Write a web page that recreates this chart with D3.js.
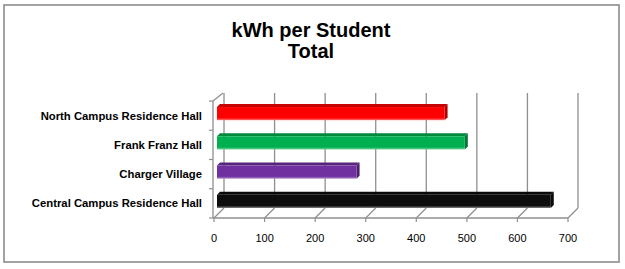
<!DOCTYPE html>
<html>
<head>
<meta charset="utf-8">
<script src="https://cdn.jsdelivr.net/npm/d3@7"></script>
<style>
  body { margin: 0; background: #fff; }
  svg { display: block; font-family: "Liberation Sans", Arial, sans-serif; }
</style>
</head>
<body>
<script>
// Width and Height
const w = 625;
const h = 269;

// chart data
const halls = ["North Campus Residence Hall", "Frank Franz Hall", "Charger Village", "Central Campus Residence Hall"];
const kwh = [450, 490, 276, 660];
const colors = ["#ff0000", "#00b050", "#7030a0", "#0d0d0d"];
const xTicks = [0, 100, 200, 300, 400, 500, 600, 700];

// depth of the 3d box
const depth = 10;

const x = d3.scaleLinear().domain([0, 700]).range([214, 568]);
const y = d3.scaleBand().domain(halls).range([101, 218]).paddingInner(0.55).paddingOuter(0.275);

const svg = d3.select("body")
    .append("svg")
    .attr("width", w)
    .attr("height", h);

// outer frame
svg.append("rect")
    .attr("x", 4).attr("y", 5)
    .attr("width", 615).attr("height", 257)
    .attr("fill", "none")
    .attr("stroke", "#8c8c8c")
    .attr("stroke-width", 1.6);

// title
const title = svg.append("text")
    .attr("text-anchor", "middle")
    .attr("font-weight", "bold")
    .attr("font-size", 20)
    .attr("fill", "#000");
title.append("tspan").attr("x", 311).attr("y", 37).text("kWh per Student");
title.append("tspan").attr("x", 311).attr("y", 58).text("Total");

const grid = "#8f8f8f";
const top0 = y.range()[0], bot0 = y.range()[1];

// back wall gridlines + floor lines
xTicks.forEach(function(t) {
    svg.append("line")
        .attr("x1", x(t) + depth).attr("x2", x(t) + depth)
        .attr("y1", top0 - depth + 2).attr("y2", bot0 - depth)
        .attr("stroke", grid).attr("stroke-width", 1.3);
    svg.append("line")
        .attr("x1", x(t)).attr("y1", bot0)
        .attr("x2", x(t) + depth).attr("y2", bot0 - depth)
        .attr("stroke", grid).attr("stroke-width", 1.2);
    // tick mark
    svg.append("line")
        .attr("x1", x(t)).attr("x2", x(t))
        .attr("y1", bot0).attr("y2", bot0 + 4)
        .attr("stroke", grid).attr("stroke-width", 1.2);
});

// left wall
svg.append("path")
    .attr("d", "M" + (x(0) - 1) + "," + bot0 + "V" + top0 + "L" + (x(0) + depth - 1) + "," + (top0 - depth + 2))
    .attr("fill", "none").attr("stroke", grid).attr("stroke-width", 1.3);

// floor front edge
svg.append("line")
    .attr("x1", x(0) - 1).attr("x2", x(700))
    .attr("y1", bot0).attr("y2", bot0)
    .attr("stroke", grid).attr("stroke-width", 1.3);

// category ticks on left wall
const bounds = [top0].concat(halls.map(function(d) { return y(d) + y.bandwidth() + y.step() * y.paddingInner() / 2; }));
bounds.forEach(function(b) {
    svg.append("line")
        .attr("x1", x(0) - 5).attr("x2", x(0) - 1)
        .attr("y1", b).attr("y2", b)
        .attr("stroke", grid).attr("stroke-width", 1.2);
});

// x tick labels
svg.selectAll("text.tick")
    .data(xTicks)
    .enter()
    .append("text")
    .attr("class", "tick")
    .attr("x", function(d) { return x(d); })
    .attr("y", 242)
    .attr("text-anchor", "middle")
    .attr("font-size", 11)
    .attr("fill", "#000")
    .text(function(d) { return d; });

// category labels
svg.selectAll("text.cat")
    .data(halls)
    .enter()
    .append("text")
    .attr("class", "cat")
    .attr("x", 202)
    .attr("y", function(d) { return y(d) + y.bandwidth() / 2 + 4; })
    .attr("text-anchor", "end")
    .attr("font-weight", "bold")
    .attr("font-size", 11.3)
    .attr("fill", "#000")
    .text(function(d) { return d; });

// gradients for bar fronts
const defs = svg.append("defs");
colors.forEach(function(c, i) {
    const g = defs.append("linearGradient")
        .attr("id", "bar" + i)
        .attr("x1", 0).attr("y1", 0).attr("x2", 0).attr("y2", 1);
    g.append("stop").attr("offset", "0%").attr("stop-color", c);
    g.append("stop").attr("offset", "82%").attr("stop-color", c);
    g.append("stop").attr("offset", "100%").attr("stop-color", d3.interpolateRgb(c, "#fff")(0.45));
});

// 3d bars: front face at depth 3, back at depth 6
const df = 3, db = 6;
halls.forEach(function(d, i) {
    const x0 = x(0) + df;
    const x1 = x(kwh[i]) + df;
    const yt = y(d) - df + 1;
    const hb = y.bandwidth();
    const sh = db - df;
    const dark = d3.color(colors[i]).darker(0.7);
    // top face
    svg.append("path")
        .attr("d", "M" + x0 + "," + yt + "L" + (x0 + sh) + "," + (yt - sh) + "H" + (x1 + sh) + "L" + x1 + "," + yt + "Z")
        .attr("fill", dark);
    // side face
    svg.append("path")
        .attr("d", "M" + x1 + "," + yt + "L" + (x1 + sh) + "," + (yt - sh) + "V" + (yt - sh + hb) + "L" + x1 + "," + (yt + hb) + "Z")
        .attr("fill", d3.color(colors[i]).darker(1.1));
    // front face
    svg.append("rect")
        .attr("x", x0).attr("y", yt)
        .attr("width", x1 - x0).attr("height", hb)
        .attr("fill", "url(#bar" + i + ")");
});
</script>
</body>
</html>
